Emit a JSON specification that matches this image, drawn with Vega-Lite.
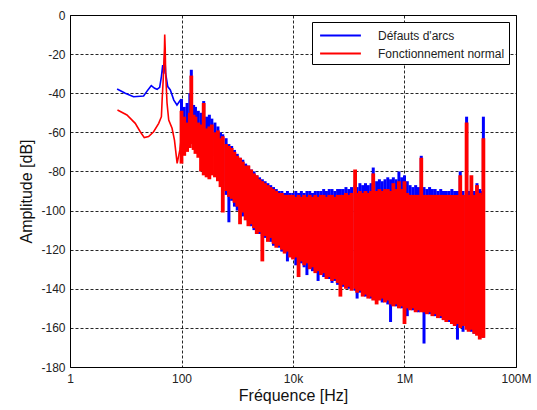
{
  "$schema": "https://vega.github.io/schema/vega-lite/v6.json",
  "width": 446,
  "height": 352,
  "autosize": {"type": "none"},
  "padding": {"left": 70, "top": 15, "right": 21, "bottom": 43},
  "background": "white",
  "config": {
    "view": {"stroke": "black", "strokeWidth": 1},
    "axis": {
      "gridColor": "#000",
      "gridDash": [3, 2],
      "gridOpacity": 0.85,
      "gridWidth": 1,
      "ticks": false,
      "domain": false,
      "labelFont": "Liberation Sans",
      "labelFontSize": 12,
      "labelColor": "#222",
      "labelOverlap": false,
      "titleFont": "Liberation Sans",
      "titleFontSize": 16,
      "titleFontWeight": "normal",
      "titleColor": "#111"
    },
    "axisY": {"labelOverlap": false}
  },
  "datasets": {
    "low": [
      {"f": 7, "s": "Défauts d'arcs", "v": -37.8},
      {"f": 9.8, "s": "Défauts d'arcs", "v": -40},
      {"f": 13.8, "s": "Défauts d'arcs", "v": -41.8},
      {"f": 20.9, "s": "Défauts d'arcs", "v": -41.4},
      {"f": 25, "s": "Défauts d'arcs", "v": -38.3},
      {"f": 28.7, "s": "Défauts d'arcs", "v": -36.1},
      {"f": 33, "s": "Défauts d'arcs", "v": -37.5},
      {"f": 36.5, "s": "Défauts d'arcs", "v": -38},
      {"f": 40.6, "s": "Défauts d'arcs", "v": -37},
      {"f": 43.6, "s": "Défauts d'arcs", "v": -31.5},
      {"f": 46, "s": "Défauts d'arcs", "v": -25.6},
      {"f": 48, "s": "Défauts d'arcs", "v": -30},
      {"f": 50, "s": "Défauts d'arcs", "v": -20.4},
      {"f": 52, "s": "Défauts d'arcs", "v": -30},
      {"f": 56.7, "s": "Défauts d'arcs", "v": -36.6},
      {"f": 63, "s": "Défauts d'arcs", "v": -38.3},
      {"f": 72.8, "s": "Défauts d'arcs", "v": -43.5},
      {"f": 83, "s": "Défauts d'arcs", "v": -46},
      {"f": 95.6, "s": "Défauts d'arcs", "v": -43.5},
      {"f": 100, "s": "Défauts d'arcs", "v": -43},
      {"f": 7.1, "s": "Fonctionnement normal", "v": -48.6},
      {"f": 10.5, "s": "Fonctionnement normal", "v": -51.1},
      {"f": 14.8, "s": "Fonctionnement normal", "v": -55.4},
      {"f": 18.2, "s": "Fonctionnement normal", "v": -59.7},
      {"f": 21.5, "s": "Fonctionnement normal", "v": -62.7},
      {"f": 25.7, "s": "Fonctionnement normal", "v": -62.2},
      {"f": 31.6, "s": "Fonctionnement normal", "v": -59.7},
      {"f": 39, "s": "Fonctionnement normal", "v": -55.4},
      {"f": 43.6, "s": "Fonctionnement normal", "v": -52},
      {"f": 45, "s": "Fonctionnement normal", "v": -43},
      {"f": 47, "s": "Fonctionnement normal", "v": -33},
      {"f": 49.5, "s": "Fonctionnement normal", "v": -17},
      {"f": 50, "s": "Fonctionnement normal", "v": -10},
      {"f": 51, "s": "Fonctionnement normal", "v": -17},
      {"f": 52, "s": "Fonctionnement normal", "v": -30},
      {"f": 55, "s": "Fonctionnement normal", "v": -45},
      {"f": 59, "s": "Fonctionnement normal", "v": -53.7},
      {"f": 67.7, "s": "Fonctionnement normal", "v": -57.9},
      {"f": 74.8, "s": "Fonctionnement normal", "v": -64},
      {"f": 83.5, "s": "Fonctionnement normal", "v": -75.9},
      {"f": 93.5, "s": "Fonctionnement normal", "v": -69},
      {"f": 100, "s": "Fonctionnement normal", "v": -62}
    ],
    "dense": [
      {"f": 100, "bh": -43, "bl": -68, "rh": -49, "rl": -76},
      {"f": 112, "bh": -47, "bl": -67, "rh": -52, "rl": -72},
      {"f": 126, "bh": -45, "bl": -63, "rh": -55, "rl": -70},
      {"f": 141, "bh": -40, "bl": -62, "rh": -50, "rl": -68},
      {"f": 150, "bh": -28, "bl": -60, "rh": -31, "rl": -66},
      {"f": 165, "bh": -46, "bl": -64, "rh": -51, "rl": -69},
      {"f": 178, "bh": -47, "bl": -66, "rh": -52, "rl": -71},
      {"f": 200, "bh": -49, "bl": -68, "rh": -55, "rl": -73},
      {"f": 224, "bh": -50, "bl": -70, "rh": -56, "rl": -80},
      {"f": 250, "bh": -44, "bl": -64, "rh": -45, "rl": -82},
      {"f": 282, "bh": -52, "bl": -66, "rh": -58, "rl": -83},
      {"f": 316, "bh": -51, "bl": -70, "rh": -57, "rl": -84},
      {"f": 350, "bh": -53, "bl": -68, "rh": -56, "rl": -82},
      {"f": 398, "bh": -55, "bl": -72, "rh": -60, "rl": -83},
      {"f": 450, "bh": -57, "bl": -74, "rh": -59, "rl": -85},
      {"f": 501, "bh": -60, "bl": -78, "rh": -63, "rl": -88},
      {"f": 550, "bh": -61, "bl": -85, "rh": -62, "rl": -101},
      {"f": 631, "bh": -63, "bl": -92, "rh": -66, "rl": -90},
      {"f": 708, "bh": -66, "bl": -106, "rh": -67, "rl": -93},
      {"f": 794, "bh": -67, "bl": -95, "rh": -68, "rl": -94},
      {"f": 891, "bh": -69, "bl": -98, "rh": -70, "rl": -96},
      {"f": 1000, "bh": -71, "bl": -100, "rh": -72, "rl": -98},
      {"f": 1122, "bh": -73, "bl": -101, "rh": -73, "rl": -107},
      {"f": 1259, "bh": -74, "bl": -103, "rh": -75, "rl": -101},
      {"f": 1413, "bh": -76, "bl": -104, "rh": -77, "rl": -105},
      {"f": 1585, "bh": -77, "bl": -106, "rh": -77, "rl": -108},
      {"f": 1778, "bh": -79, "bl": -108, "rh": -79, "rl": -107},
      {"f": 1995, "bh": -80, "bl": -110, "rh": -81, "rl": -109},
      {"f": 2239, "bh": -82, "bl": -110, "rh": -82, "rl": -112},
      {"f": 2512, "bh": -83, "bl": -112, "rh": -84, "rl": -111},
      {"f": 2818, "bh": -84, "bl": -113, "rh": -85, "rl": -126},
      {"f": 3162, "bh": -85, "bl": -114, "rh": -86, "rl": -113},
      {"f": 3548, "bh": -86, "bl": -115, "rh": -87, "rl": -116},
      {"f": 3981, "bh": -87, "bl": -116, "rh": -88, "rl": -114},
      {"f": 4467, "bh": -88, "bl": -118, "rh": -89, "rl": -117},
      {"f": 5012, "bh": -89, "bl": -117, "rh": -90, "rl": -119},
      {"f": 5623, "bh": -90, "bl": -119, "rh": -91, "rl": -118},
      {"f": 6310, "bh": -90, "bl": -121, "rh": -91, "rl": -120},
      {"f": 7079, "bh": -91, "bl": -120, "rh": -92, "rl": -122},
      {"f": 7943, "bh": -90, "bl": -126, "rh": -92, "rl": -121},
      {"f": 8913, "bh": -91, "bl": -122, "rh": -92, "rl": -124},
      {"f": 10000, "bh": -91, "bl": -123, "rh": -92, "rl": -125},
      {"f": 11220, "bh": -90, "bl": -128, "rh": -93, "rl": -124},
      {"f": 12589, "bh": -91, "bl": -125, "rh": -92, "rl": -134},
      {"f": 14125, "bh": -90, "bl": -127, "rh": -93, "rl": -126},
      {"f": 15849, "bh": -91, "bl": -129, "rh": -92, "rl": -128},
      {"f": 17783, "bh": -90, "bl": -133, "rh": -93, "rl": -127},
      {"f": 19953, "bh": -90, "bl": -128, "rh": -92, "rl": -130},
      {"f": 22387, "bh": -91, "bl": -131, "rh": -93, "rl": -129},
      {"f": 25119, "bh": -90, "bl": -130, "rh": -92, "rl": -132},
      {"f": 28184, "bh": -90, "bl": -136, "rh": -93, "rl": -131},
      {"f": 31623, "bh": -90, "bl": -132, "rh": -92, "rl": -133},
      {"f": 35481, "bh": -89, "bl": -134, "rh": -92, "rl": -132},
      {"f": 39811, "bh": -90, "bl": -133, "rh": -93, "rl": -135},
      {"f": 44668, "bh": -89, "bl": -135, "rh": -92, "rl": -134},
      {"f": 50119, "bh": -89, "bl": -137, "rh": -92, "rl": -136},
      {"f": 56234, "bh": -90, "bl": -136, "rh": -93, "rl": -135},
      {"f": 63096, "bh": -89, "bl": -138, "rh": -92, "rl": -137},
      {"f": 70795, "bh": -89, "bl": -137, "rh": -92, "rl": -144},
      {"f": 79433, "bh": -89, "bl": -139, "rh": -92, "rl": -138},
      {"f": 89125, "bh": -88, "bl": -138, "rh": -91, "rl": -140},
      {"f": 100000, "bh": -89, "bl": -140, "rh": -92, "rl": -139},
      {"f": 112202, "bh": -88, "bl": -139, "rh": -91, "rl": -141},
      {"f": 130000, "bh": -87, "bl": -141, "rh": -79, "rl": -140},
      {"f": 141254, "bh": -88, "bl": -145, "rh": -91, "rl": -142},
      {"f": 158489, "bh": -86, "bl": -142, "rh": -90, "rl": -141},
      {"f": 177828, "bh": -87, "bl": -143, "rh": -91, "rl": -144},
      {"f": 199526, "bh": -86, "bl": -144, "rh": -90, "rl": -143},
      {"f": 223872, "bh": -87, "bl": -143, "rh": -91, "rl": -145},
      {"f": 251189, "bh": -86, "bl": -145, "rh": -90, "rl": -144},
      {"f": 275000, "bh": -78, "bl": -144, "rh": -81, "rl": -146},
      {"f": 316228, "bh": -85, "bl": -146, "rh": -90, "rl": -148},
      {"f": 354813, "bh": -84, "bl": -145, "rh": -89, "rl": -146},
      {"f": 398107, "bh": -85, "bl": -147, "rh": -90, "rl": -145},
      {"f": 446684, "bh": -84, "bl": -146, "rh": -89, "rl": -147},
      {"f": 501187, "bh": -83, "bl": -148, "rh": -89, "rl": -146},
      {"f": 562341, "bh": -84, "bl": -157, "rh": -90, "rl": -148},
      {"f": 630957, "bh": -83, "bl": -147, "rh": -86, "rl": -149},
      {"f": 707946, "bh": -84, "bl": -149, "rh": -89, "rl": -148},
      {"f": 794328, "bh": -80, "bl": -148, "rh": -85, "rl": -150},
      {"f": 891251, "bh": -83, "bl": -150, "rh": -89, "rl": -149},
      {"f": 1000000, "bh": -82, "bl": -152, "rh": -85, "rl": -158},
      {"f": 1122018, "bh": -85, "bl": -154, "rh": -91, "rl": -150},
      {"f": 1258925, "bh": -87, "bl": -150, "rh": -92, "rl": -151},
      {"f": 1412538, "bh": -88, "bl": -151, "rh": -92, "rl": -150},
      {"f": 1584893, "bh": -87, "bl": -150, "rh": -92, "rl": -152},
      {"f": 1778279, "bh": -88, "bl": -152, "rh": -92, "rl": -151},
      {"f": 2000000, "bh": -72, "bl": -151, "rh": -73, "rl": -152},
      {"f": 2238721, "bh": -88, "bl": -168, "rh": -92, "rl": -152},
      {"f": 2511886, "bh": -89, "bl": -152, "rh": -92, "rl": -153},
      {"f": 2818383, "bh": -88, "bl": -153, "rh": -92, "rl": -152},
      {"f": 3162278, "bh": -89, "bl": -152, "rh": -92, "rl": -154},
      {"f": 3548134, "bh": -89, "bl": -154, "rh": -92, "rl": -153},
      {"f": 3981072, "bh": -90, "bl": -153, "rh": -92, "rl": -155},
      {"f": 4466836, "bh": -89, "bl": -155, "rh": -92, "rl": -154},
      {"f": 5011872, "bh": -90, "bl": -156, "rh": -92, "rl": -156},
      {"f": 5623413, "bh": -90, "bl": -155, "rh": -92, "rl": -157},
      {"f": 6309573, "bh": -90, "bl": -157, "rh": -92, "rl": -156},
      {"f": 7079458, "bh": -89, "bl": -158, "rh": -92, "rl": -158},
      {"f": 7943282, "bh": -90, "bl": -157, "rh": -92, "rl": -159},
      {"f": 8912509, "bh": -90, "bl": -166, "rh": -92, "rl": -158},
      {"f": 10000000, "bh": -80, "bl": -159, "rh": -82, "rl": -160},
      {"f": 11220185, "bh": -90, "bl": -162, "rh": -92, "rl": -159},
      {"f": 13000000, "bh": -52, "bl": -160, "rh": -55, "rl": -161},
      {"f": 14125375, "bh": -90, "bl": -161, "rh": -92, "rl": -162},
      {"f": 15848932, "bh": -89, "bl": -162, "rh": -82, "rl": -161},
      {"f": 17782794, "bh": -90, "bl": -163, "rh": -92, "rl": -163},
      {"f": 19952623, "bh": -86, "bl": -162, "rh": -87, "rl": -164},
      {"f": 22387211, "bh": -89, "bl": -164, "rh": -91, "rl": -166},
      {"f": 24500000, "bh": -90, "bl": -163, "rh": -92, "rl": -165},
      {"f": 26000000, "bh": -52, "bl": -165, "rh": -63, "rl": -165}
    ]
  },
  "layer": [
    {
      "data": {"name": "low"},
      "mark": {"type": "line", "strokeWidth": 1.6, "clip": true},
      "encoding": {
        "x": {
          "field": "f", "type": "quantitative",
          "scale": {"type": "log", "domain": [1, 100000000]},
          "axis": {
            "title": "Fréquence [Hz]",
            "values": [1, 100, 10000, 1000000, 100000000],
            "labelExpr": "datum.value >= 1000000 ? format(datum.value / 1000000, 'd') + 'M' : datum.value >= 1000 ? format(datum.value / 1000, 'd') + 'k' : format(datum.value, 'd')",
            "labelPadding": 6,
            "titlePadding": 3,
            "labelFlush": false,
            "labelOverlap": false
          }
        },
        "y": {
          "field": "v", "type": "quantitative",
          "scale": {"domain": [-180, 0]},
          "axis": {
            "title": "Amplitude [dB]",
            "values": [-180, -160, -140, -120, -100, -80, -60, -40, -20, 0],
            "labelExpr": "toString(round(datum.value))",
            "labelPadding": 5,
            "titlePadding": 6,
            "labelOverlap": false,
            "labelFlush": false
          }
        },
        "color": {
          "field": "s", "type": "nominal",
          "scale": {"domain": ["Défauts d'arcs", "Fonctionnement normal"], "range": ["#0000ff", "#ff0000"]},
          "legend": {
            "title": null,
            "orient": "top-right",
            "offset": 7,
            "fillColor": "white",
            "strokeColor": "black",
            "padding": 4,
            "rowPadding": 2,
            "symbolType": "M-2.4,0H2.4",
            "symbolSize": 289,
            "symbolStrokeWidth": 2,
            "symbolOffset": 15,
            "labelOffset": 28,
            "labelFont": "Liberation Sans",
            "labelFontSize": 12,
            "labelColor": "#222"
          }
        },
        "order": {"field": "f", "type": "quantitative"}
      }
    },
    {
      "data": {"name": "dense"},
      "mark": {"type": "rule", "strokeWidth": 3, "clip": true},
      "encoding": {
        "x": {
          "field": "f", "type": "quantitative",
          "scale": {"type": "log", "domain": [1, 100000000]},
          "axis": {
            "title": "Fréquence [Hz]",
            "values": [1, 100, 10000, 1000000, 100000000],
            "labelExpr": "datum.value >= 1000000 ? format(datum.value / 1000000, 'd') + 'M' : datum.value >= 1000 ? format(datum.value / 1000, 'd') + 'k' : format(datum.value, 'd')",
            "labelPadding": 6,
            "titlePadding": 3,
            "labelFlush": false,
            "labelOverlap": false
          }
        },
        "y": {
          "field": "bh", "type": "quantitative",
          "scale": {"domain": [-180, 0]},
          "axis": {
            "title": "Amplitude [dB]",
            "values": [-180, -160, -140, -120, -100, -80, -60, -40, -20, 0],
            "labelExpr": "toString(round(datum.value))",
            "labelPadding": 5,
            "titlePadding": 6,
            "labelOverlap": false,
            "labelFlush": false
          }
        },
        "y2": {"field": "bl"},
        "color": {"datum": "Défauts d'arcs"}
      }
    },
    {
      "data": {"name": "dense"},
      "mark": {"type": "rule", "strokeWidth": 3.8, "clip": true},
      "encoding": {
        "x": {
          "field": "f", "type": "quantitative",
          "scale": {"type": "log", "domain": [1, 100000000]},
          "axis": {
            "title": "Fréquence [Hz]",
            "values": [1, 100, 10000, 1000000, 100000000],
            "labelExpr": "datum.value >= 1000000 ? format(datum.value / 1000000, 'd') + 'M' : datum.value >= 1000 ? format(datum.value / 1000, 'd') + 'k' : format(datum.value, 'd')",
            "labelPadding": 6,
            "titlePadding": 3,
            "labelFlush": false,
            "labelOverlap": false
          }
        },
        "y": {
          "field": "rh", "type": "quantitative",
          "scale": {"domain": [-180, 0]},
          "axis": {
            "title": "Amplitude [dB]",
            "values": [-180, -160, -140, -120, -100, -80, -60, -40, -20, 0],
            "labelExpr": "toString(round(datum.value))",
            "labelPadding": 5,
            "titlePadding": 6,
            "labelOverlap": false,
            "labelFlush": false
          }
        },
        "y2": {"field": "rl"},
        "color": {"datum": "Fonctionnement normal"}
      }
    }
  ]
}
